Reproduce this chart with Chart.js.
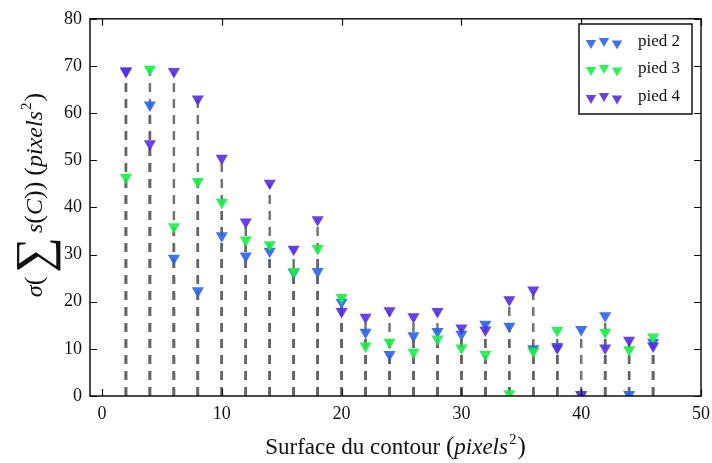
<!DOCTYPE html>
<html>
<head>
<meta charset="utf-8">
<script src="https://cdn.jsdelivr.net/npm/chart.js@4.4.1/dist/chart.umd.min.js"></script>
<style>
  body { margin: 0; background: #fff; }
  #chart { display: block; }
</style>
</head>
<body>
<canvas id="chart" width="712" height="463"></canvas>
<script>
// surface values (x)
const surfaces = [2, 4, 6, 8, 10, 12, 14, 16, 18, 20, 22, 24, 26, 28, 30, 32, 34, 36, 38, 40, 42, 44, 46];

const pied2 = [69, 61.7, 29.2, 22.3, 34, 29.7, 30.7, 26.2, 26.4, 19.9, 13.5, 8.8, 12.8, 13.7, 13.1, 15.2, 14.8, 10, 10.5, 14.1, 17, 0.3, 11.4];
const pied3 = [46.4, 69.3, 35.9, 45.5, 41.1, 33.1, 32.1, 26.4, 31.3, 20.9, 10.6, 11.4, 9.3, 12.1, 10.2, 8.8, 0.5, 9.5, 13.9, 0.2, 13.5, 9.8, 12.5];
const pied4 = [68.8, 53.5, 68.8, 63, 50.4, 36.9, 45.1, 31.1, 37.4, 17.9, 16.7, 18.1, 16.8, 17.9, 14.4, 14, 20.4, 22.5, 10.2, 0.3, 10.2, 11.8, 10.6];

const seriesNames = ["pied 2", "pied 3", "pied 4"];
const seriesColors = ["rgba(40, 100, 235, 0.9)", "rgba(25, 238, 70, 0.9)", "rgba(85, 45, 225, 0.9)"];

const xTicks = [0, 10, 20, 30, 40, 50];
const yTicks = [0, 10, 20, 30, 40, 50, 60, 70, 80];

const SERIF = "'Liberation Serif', 'Times New Roman', serif";

function points(values) {
    return surfaces.map((x, i) => ({ x: x, y: values[i] }));
}

// vertical dashed stems: 0 -> value, broken with a null point
function stems(values) {
    const out = [];
    surfaces.forEach((x, i) => {
        out.push({ x: x, y: 0 });
        out.push({ x: x, y: values[i] });
        out.push({ x: x, y: null });
    });
    return out;
}

const allSeries = [pied2, pied3, pied4];

const datasets = [];
allSeries.forEach((vals, k) => {
    datasets.push({
        label: "stem " + seriesNames[k],
        data: stems(vals),
        showLine: true,
        spanGaps: false,
        borderColor: "rgba(100, 100, 100, 0.9)",
        borderWidth: 2.5,
        borderDash: [9, 7],
        pointRadius: 0,
        order: 10
    });
});
allSeries.forEach((vals, k) => {
    datasets.push({
        label: seriesNames[k],
        data: points(vals),
        pointStyle: "triangle",
        rotation: 180,
        pointRadius: 7,
        backgroundColor: seriesColors[k],
        borderColor: seriesColors[k],
        borderWidth: 0,
        order: 3 - k
    });
});

// draws a run of text pieces (some italic, some raised/lowered)
function drawRich(ctx, segs, x, y, size) {
    let total = 0;
    segs.forEach(s => {
        ctx.font = (s.italic ? "italic " : "") + (s.size || size) + "px " + SERIF;
        s.w = ctx.measureText(s.t).width + (s.gap || 0);
        total += s.w;
    });
    let cx = x - total / 2;
    segs.forEach(s => {
        ctx.font = (s.italic ? "italic " : "") + (s.size || size) + "px " + SERIF;
        ctx.fillText(s.t, cx + (s.gap || 0) / 2, y + (s.dy || 0));
        cx += s.w;
    });
}

const framePlugin = {
    id: "frame",
    afterDraw(chart) {
        const ctx = chart.ctx;
        const a = chart.chartArea;
        const xs = chart.scales.x;
        const ys = chart.scales.y;
        ctx.save();
        ctx.strokeStyle = "#111";
        ctx.lineWidth = 1.5;
        ctx.strokeRect(a.left, a.top, a.right - a.left, a.bottom - a.top);
        ctx.lineWidth = 1.2;
        ctx.beginPath();
        xTicks.forEach(v => {
            const px = Math.round(xs.getPixelForValue(v)) + 0.5;
            ctx.moveTo(px, a.bottom); ctx.lineTo(px, a.bottom - 7);
            ctx.moveTo(px, a.top); ctx.lineTo(px, a.top + 7);
        });
        yTicks.forEach(v => {
            const py = Math.round(ys.getPixelForValue(v)) + 0.5;
            ctx.moveTo(a.left, py); ctx.lineTo(a.left + 7, py);
            ctx.moveTo(a.right, py); ctx.lineTo(a.right - 7, py);
        });
        ctx.stroke();

        // axis titles
        ctx.fillStyle = "#111";
        ctx.textBaseline = "alphabetic";
        drawRich(ctx, [
            { t: "Surface du contour " },
            { t: "(", size: 25 },
            { t: "pixels", italic: true },
            { t: "2", size: 15, dy: -10, gap: 2 },
            { t: ")", size: 25 }
        ], (a.left + a.right) / 2, 454, 23);

        ctx.save();
        ctx.translate(42, 195);
        ctx.rotate(-Math.PI / 2);
        drawRich(ctx, [
            { t: "σ", italic: true },
            { t: "(", size: 26 },
            { t: "∑", size: 50, dy: 8, gap: 8 },
            { t: "s", italic: true },
            { t: "(", size: 26 },
            { t: "C", italic: true },
            { t: ")", size: 26 },
            { t: ")", size: 26 },
            { t: " " },
            { t: "(", size: 26 },
            { t: "pixels", italic: true },
            { t: "2", size: 15, dy: -11, gap: 2 },
            { t: ")", size: 26 }
        ], 0, 0, 24);
        ctx.restore();

        // legend box with three markers per entry
        const lx = 579, ly = 24, lw = 113, lh = 90;
        ctx.fillStyle = "#fff";
        ctx.fillRect(lx, ly, lw, lh);
        ctx.strokeStyle = "#111";
        ctx.lineWidth = 1.5;
        ctx.strokeRect(lx, ly, lw, lh);
        const rowY = [42, 69, 97];
        const offs = [1, -1, 1.5];
        seriesNames.forEach((name, k) => {
            ctx.fillStyle = seriesColors[k];
            [591, 604, 617].forEach((mx, j) => {
                Chart.helpers.drawPoint(ctx, { pointStyle: "triangle", radius: 6, rotation: 180, borderWidth: 0 }, mx, rowY[k] + offs[j]);
            });
            ctx.fillStyle = "#111";
            ctx.font = "17px " + SERIF;
            ctx.textBaseline = "middle";
            ctx.fillText(name, 638, rowY[k]);
        });
        ctx.restore();
    }
};

new Chart(document.getElementById("chart"), {
    type: "scatter",
    data: { datasets: datasets },
    options: {
        responsive: false,
        animation: false,
        layout: { padding: { top: 16, right: 11, left: 0, bottom: 0 } },
        plugins: {
            legend: { display: false },
            tooltip: { enabled: false }
        },
        scales: {
            x: {
                type: "linear",
                min: -1,
                max: 50,
                afterFit: s => { s.height = 67; s.paddingLeft = 0; s.paddingRight = 0; },
                afterBuildTicks: s => { s.ticks = xTicks.map(v => ({ value: v })); },
                grid: { display: false, drawTicks: false },
                border: { display: false },
                ticks: { padding: 7, color: "#111", font: { family: SERIF, size: 18 } }
            },
            y: {
                type: "linear",
                min: 0,
                max: 80,
                afterFit: s => { s.width = 90; },
                afterBuildTicks: s => { s.ticks = yTicks.map(v => ({ value: v })); },
                grid: { display: false, drawTicks: false },
                border: { display: false },
                ticks: { padding: 8, color: "#111", font: { family: SERIF, size: 18 } }
            }
        }
    },
    plugins: [framePlugin]
});
</script>
</body>
</html>
